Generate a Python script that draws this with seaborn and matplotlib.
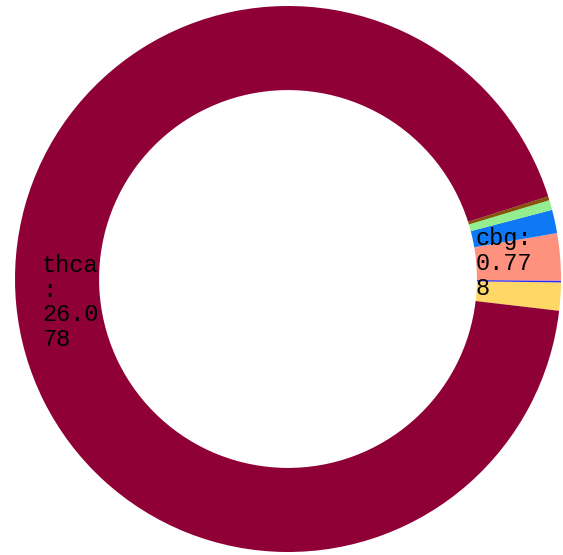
import numpy as np
import matplotlib
matplotlib.use("Agg")
import matplotlib.pyplot as plt
import seaborn as sns

# slices, counter-clockwise from just below 3 o'clock
names = ['cbd', 'cbn', 'cbg', 'thc', 'cbga', 'cbc', 'thca']
values = [0.465, 0.03, 0.778, 0.388, 0.163, 0.065, 26.078]
colors = ['#ffd767', '#2a2af8', '#fe927e', '#0f78f5', '#93ee8f', '#845508', '#8f0036']
labels = {'thca': 'thca\n:\n26.0\n78', 'cbg': 'cbg:\n0.77\n8'}
label_radius = {'thca': 0.905, 'cbg': 0.69}

sns.set_style("white")
plt.rcParams['font.family'] = ['Liberation Mono', 'DejaVu Sans Mono']

fig = plt.figure(figsize=(5.63, 5.55), dpi=100)
ax = fig.add_axes([0, 0, 1, 1])

start = -6.7
wedges, _ = ax.pie(values, colors=colors, startangle=start, counterclock=True,
                   radius=1.0, wedgeprops=dict(width=0.308, linewidth=0))

for w, n in zip(wedges, names):
    if n in labels:
        mid = np.deg2rad((w.theta1 + w.theta2) / 2)
        r = label_radius[n]
        ax.text(r * np.cos(mid), r * np.sin(mid), labels[n], ha='left', va='center',
                fontsize=17, color='black', linespacing=1.1)

ax.set_xlim(-288 / 273, (563 - 288) / 273)
ax.set_ylim(-(555 - 279) / 273, 279 / 273)
ax.set_aspect('auto')
ax.axis('off')

fig.savefig('out.png', dpi=100)
